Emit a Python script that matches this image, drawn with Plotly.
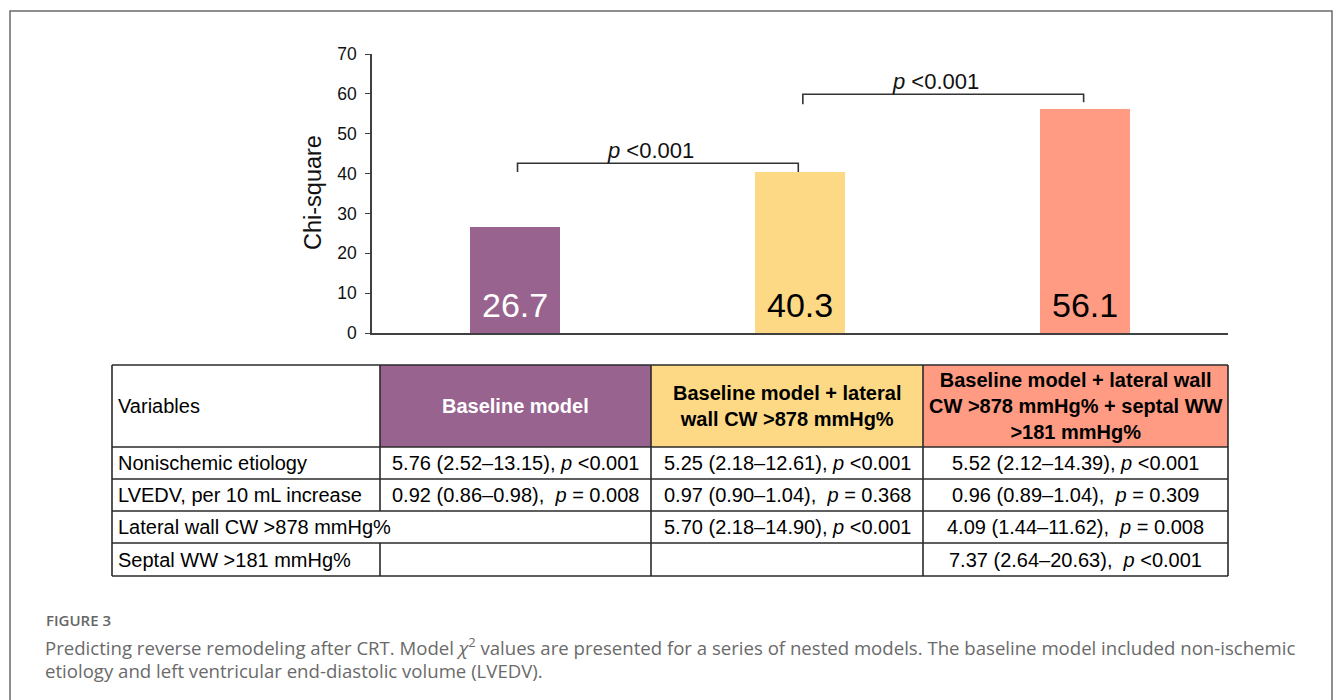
import plotly.graph_objects as go

# ---- data ----
models = [
    "Baseline model",
    "Baseline model + lateral wall CW >878 mmHg%",
    "Baseline model + lateral wall CW >878 mmHg% + septal WW >181 mmHg%",
]
chi_square = [26.7, 40.3, 56.1]
model_colors = ["#98638f", "#fdd985", "#ff9b82"]
label_colors = ["#ffffff", "#000000", "#000000"]

# nested-model comparisons: (from model, to model, p label)
comparisons = [(0, 1, "<i>p</i> &lt;0.001"), (1, 2, "<i>p</i> &lt;0.001")]

header_labels = [
    "Variables",
    "Baseline model",
    "Baseline model + lateral<br>wall CW &gt;878 mmHg%",
    "Baseline model + lateral wall<br>CW &gt;878 mmHg% + septal WW<br>&gt;181 mmHg%",
]
variables = [
    "Nonischemic etiology",
    "LVEDV, per 10 mL increase",
    "Lateral wall CW &gt;878 mmHg%",
    "Septal WW &gt;181 mmHg%",
]
baseline_col = [
    "5.76 (2.52–13.15), <i>p</i> &lt;0.001",
    "0.92 (0.86–0.98),  <i>p</i> = 0.008",
    "",
    "",
]
lateral_col = [
    "5.25 (2.18–12.61), <i>p</i> &lt;0.001",
    "0.97 (0.90–1.04),  <i>p</i> = 0.368",
    "5.70 (2.18–14.90), <i>p</i> &lt;0.001",
    "",
]
septal_col = [
    "5.52 (2.12–14.39), <i>p</i> &lt;0.001",
    "0.96 (0.89–1.04),  <i>p</i> = 0.309",
    "4.09 (1.44–11.62),  <i>p</i> = 0.008",
    "7.37 (2.64–20.63),  <i>p</i> &lt;0.001",
]
y_ticks = [0, 10, 20, 30, 40, 50, 60, 70]
y_title = "Chi-square"

caption_title = "FIGURE 3"
caption_lines = [
    "Predicting reverse remodeling after CRT. Model <i>χ</i><sup>2</sup> values are presented for a series of nested models. The baseline model included non-ischemic",
    "etiology and left ventricular end-diastolic volume (LVEDV).",
]

# ---- layout helpers (page pixels -> paper fraction) ----
W, H = 1335, 700
def px(x):
    return x / W
def py(y):
    return 1 - y / H

FONT = "Liberation Sans, Arial, sans-serif"
CAP_FONT = "Open Sans, sans-serif"

fig = go.Figure()
fig.add_trace(go.Bar(
    x=list(range(len(models))),
    y=chi_square,
    width=0.315,
    marker=dict(color=model_colors, line=dict(width=0)),
    hoverinfo="skip",
))

annotations = []
shapes = []

# value labels sitting at the foot of each bar
for k, v in enumerate(chi_square):
    annotations.append(dict(
        x=k, y=0, xref="x", yref="y", text=f"{v:.1f}",
        showarrow=False, xanchor="center", yanchor="bottom", yshift=7,
        font=dict(family=FONT, size=34, color=label_colors[k]),
    ))

# significance brackets between nested models
bracket_tops = [42.6, 59.9]
for (i, j, lab), top in zip(comparisons, bracket_tops):
    y_left = top - 2.2 if i == 0 else top - 2.5
    y_right = top - 2.2 if i == 0 else top - 2.0
    x0, x1 = i + 0.01, j - 0.006
    shapes.append(dict(
        type="path", xref="x", yref="y",
        path=f"M {x0},{y_left} L {x0},{top} L {x1},{top} L {x1},{y_right}",
        line=dict(color="#333333", width=1.6),
    ))
    annotations.append(dict(
        x=(i + j) / 2, y=top, xref="x", yref="y",
        text=lab, showarrow=False, xanchor="center", yanchor="bottom",
        xshift=-7, yshift=-2,
        font=dict(family=FONT, size=22, color="#111111"),
    ))

# y-axis title
annotations.append(dict(
    x=px(313), y=py(193), xref="paper", yref="paper", text=y_title,
    showarrow=False, textangle=-90, xanchor="center", yanchor="middle",
    font=dict(family=FONT, size=23.5, color="#111111"),
))

# ---- table ----
col_x = [112, 380, 651, 923, 1228]
row_y = [365, 447, 479, 511, 543, 576]
line_col = "#2a2a2a"
lw = 1.6

# header fills
for k in range(3):
    shapes.append(dict(
        type="rect", xref="paper", yref="paper", layer="below",
        x0=px(col_x[k + 1]), x1=px(col_x[k + 2]),
        y0=py(row_y[1]), y1=py(row_y[0]),
        fillcolor=model_colors[k], line=dict(width=0),
    ))

# horizontal rules
for yy in row_y:
    shapes.append(dict(
        type="line", xref="paper", yref="paper",
        x0=px(col_x[0]), x1=px(col_x[-1]), y0=py(yy), y1=py(yy),
        line=dict(color=line_col, width=lw),
    ))
# vertical rules, row by row (the lateral-wall row spans the first two columns)
for r in range(len(row_y) - 1):
    for c, xx in enumerate(col_x):
        if r == 3 and c == 1:
            continue
        shapes.append(dict(
            type="line", xref="paper", yref="paper",
            x0=px(xx), x1=px(xx), y0=py(row_y[r]), y1=py(row_y[r + 1]),
            line=dict(color=line_col, width=lw),
        ))

TFS = 20
header_colors = ["#000000", "#ffffff", "#000000", "#000000"]
for c, lab in enumerate(header_labels):
    if c == 0:
        xa, xan = px(col_x[0] + 4), "left"
    else:
        xa, xan = px((col_x[c] + col_x[c + 1]) / 2), "center"
    annotations.append(dict(
        x=xa, y=py((row_y[0] + row_y[1]) / 2), xref="paper", yref="paper",
        text=lab if c == 0 else f"<b>{lab}</b>", showarrow=False,
        xanchor=xan, yanchor="middle", align="center",
        font=dict(family=FONT, size=TFS, color=header_colors[c]),
    ))

columns = [baseline_col, lateral_col, septal_col]
for r, var in enumerate(variables):
    yc = py((row_y[r + 1] + row_y[r + 2]) / 2)
    annotations.append(dict(
        x=px(col_x[0] + 4), y=yc, xref="paper", yref="paper",
        text=var, showarrow=False, xanchor="left", yanchor="middle",
        font=dict(family=FONT, size=TFS, color="#000000"),
    ))
    for c, col in enumerate(columns):
        if not col[r]:
            continue
        annotations.append(dict(
            x=px((col_x[c + 1] + col_x[c + 2]) / 2), y=yc, xref="paper", yref="paper",
            text=col[r], showarrow=False, xanchor="center", yanchor="middle",
            font=dict(family=FONT, size=TFS, color="#000000"),
        ))

# ---- caption ----
annotations.append(dict(
    x=px(44), y=py(620), xref="paper", yref="paper", text=caption_title,
    showarrow=False, xanchor="left", yanchor="middle",
    font=dict(family=CAP_FONT, size=15, color="#666666", weight=600),
))
for k, line in enumerate(caption_lines):
    annotations.append(dict(
        x=px(43), y=py(646 + 24 * k), xref="paper", yref="paper", text=line,
        showarrow=False, xanchor="left", yanchor="middle",
        font=dict(family=CAP_FONT, size=18.6, color="#6a6a6a"),
    ))

# outer frame
shapes.append(dict(
    type="rect", xref="paper", yref="paper",
    x0=px(10), x1=px(1332), y0=py(730), y1=py(11),
    line=dict(color="#6a6a6a", width=1.5), fillcolor="rgba(0,0,0,0)",
))

fig.update_layout(
    width=W, height=H, autosize=False,
    margin=dict(l=0, r=0, t=0, b=0, autoexpand=False),
    paper_bgcolor="white", plot_bgcolor="white",
    showlegend=False,
    bargap=0,
    xaxis=dict(
        domain=[px(372), px(1228)], range=[-0.5, 2.5], automargin=False,
        showticklabels=False, ticks="", showgrid=False, zeroline=False,
        showline=True, linecolor="#404040", linewidth=1.5, fixedrange=True,
    ),
    yaxis=dict(
        domain=[py(333), py(54)], range=[0, 70], automargin=False,
        tickvals=y_ticks, ticks="outside", ticklen=5, tickwidth=1.2,
        ticklabelstandoff=5,
        tickcolor="#404040", showgrid=False, zeroline=False,
        showline=True, linecolor="#404040", linewidth=1.5,
        tickfont=dict(family=FONT, size=17.5, color="#111111"),
        fixedrange=True,
    ),
    shapes=shapes,
    annotations=annotations,
)

fig.write_html("out.html")
